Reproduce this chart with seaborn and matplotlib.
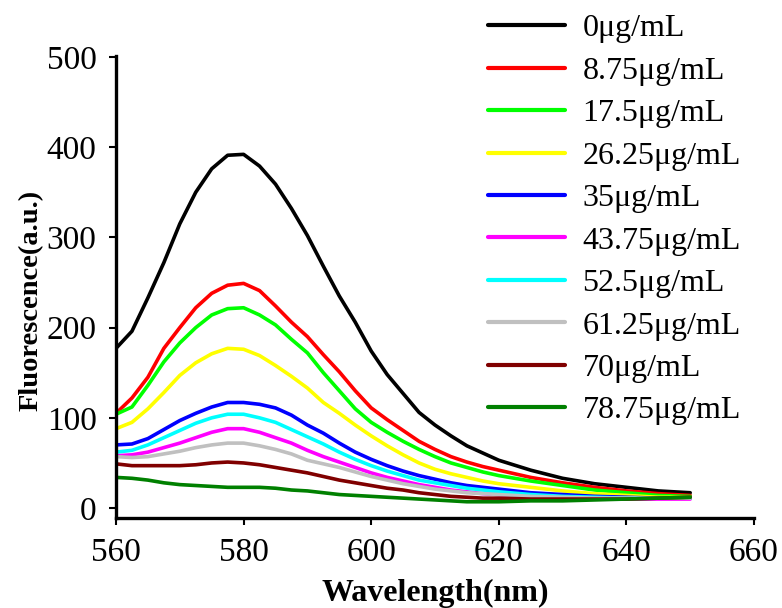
import numpy as np
import pandas as pd
import matplotlib
matplotlib.use("Agg")
import matplotlib.pyplot as plt
import seaborn as sns

wavelength = [560, 562.5, 565, 567.5, 570, 572.5, 575, 577.5, 580, 582.5, 585, 587.5,
              590, 592.5, 595, 597.5, 600, 602.5, 605, 607.5, 610, 612.5, 615, 617.5,
              620, 625, 630, 635, 640, 645, 650]

labels = ["0μg/mL", "8.75μg/mL", "17.5μg/mL", "26.25μg/mL", "35μg/mL",
          "43.75μg/mL", "52.5μg/mL", "61.25μg/mL", "70μg/mL", "78.75μg/mL"]

c0     = [177, 196, 233, 272, 315, 350, 376, 391, 392, 379, 359, 332, 302, 268, 235, 206,
          174, 148, 127, 106, 92, 80, 69, 61, 53, 42, 33, 27, 23, 19, 17]
c8_75  = [105, 122, 145, 177, 200, 222, 238, 247, 249, 241, 224, 206, 190, 170, 151, 130,
          111, 98, 86, 74, 65, 57, 51, 46, 42, 34, 28, 23, 19, 16, 14]
c17_5  = [104, 112, 136, 162, 183, 200, 214, 221, 222, 214, 203, 187, 172, 150, 130, 110,
          95, 84, 74, 65, 57, 50, 45, 40, 36, 30, 25, 20, 17, 14, 13]
c26_25 = [88, 95, 110, 128, 147, 161, 171, 177, 176, 169, 158, 146, 133, 117, 105, 92,
          80, 69, 59, 50, 43, 38, 34, 30, 27, 23, 19, 16, 14, 12, 12]
c35    = [70, 71, 77, 87, 97, 105, 112, 117, 117, 115, 111, 103, 92, 83, 72, 62,
          54, 47, 41, 36, 32, 28, 25, 23, 21, 17, 15, 13, 12, 11, 11]
c43_75 = [58, 59, 62, 67, 72, 78, 84, 88, 88, 84, 78, 72, 64, 57, 51, 45,
          39, 34, 30, 26, 23, 20, 18, 16, 15, 13, 11, 10, 10, 10, 10]
c52_5  = [62, 64, 70, 78, 86, 94, 100, 104, 104, 100, 95, 87, 79, 71, 62, 54,
          47, 41, 36, 31, 28, 25, 22, 20, 18, 15, 13, 12, 11, 11, 11]
c61_25 = [57, 56, 57, 60, 63, 67, 70, 72, 72, 69, 65, 60, 53, 49, 45, 40,
          35, 31, 27, 24, 21, 19, 17, 16, 15, 13, 12, 11, 11, 11, 11]
c70    = [49, 47, 47, 47, 47, 48, 50, 51, 50, 48, 45, 42, 39, 35, 31, 28,
          25, 22, 20, 17, 15, 13, 12, 11, 11, 10, 10, 10, 10, 11, 12]
c78_75 = [34, 33, 31, 28, 26, 25, 24, 23, 23, 23, 22, 20, 19, 17, 15, 14,
          13, 12, 11, 10, 9, 8, 7, 7, 7, 8, 8, 9, 10, 11, 12]

series = [c0, c8_75, c17_5, c26_25, c35, c43_75, c52_5, c61_25, c70, c78_75]
colors = ["#000000", "#FF0000", "#00FF00", "#FFFF00", "#0000FF",
          "#FF00FF", "#00FFFF", "#C0C0C0", "#800000", "#008000"]

rows = []
for lab, vals in zip(labels, series):
    for w, v in zip(wavelength, vals):
        rows.append({"Wavelength": w, "Fluorescence": v, "Concentration": lab})
df = pd.DataFrame(rows)

sns.set_style("ticks")
plt.rcParams["font.family"] = ["Liberation Serif", "DejaVu Serif"]
plt.rcParams["text.color"] = "black"
plt.rcParams["axes.labelcolor"] = "black"

fig = plt.figure(figsize=(7.82, 6.08), dpi=100)
ax = fig.add_axes([116/782, 1 - 518/608, (754-116)/782, (518-56)/608])

sns.lineplot(data=df, x="Wavelength", y="Fluorescence", hue="Concentration",
             hue_order=labels, palette=colors, linewidth=2.6, ax=ax, legend=False)

ax.set_xlim(560, 660)
ax.set_ylim(-11, 501)
ax.set_xticks([560, 580, 600, 620, 640, 660])
ax.set_yticks([0, 100, 200, 300, 400, 500])
for s in ["top", "right"]:
    ax.spines[s].set_visible(False)
for s in ["left", "bottom"]:
    ax.spines[s].set_linewidth(2.4)
    ax.spines[s].set_color("black")
ax.tick_params(axis="both", direction="out", length=5, width=1.5, labelsize=24,
               colors="black", pad=9)
ax.set_xlabel("Wavelength(nm)", fontsize=23, fontweight="bold", labelpad=8, color="black")
ax.set_ylabel("Fluorescence(a.u.)", fontsize=20.5, fontweight="bold", labelpad=2, color="black")
ax.yaxis.label.set_y(0.47)

handles = [plt.Line2D([], [], color=c, linewidth=3) for c in colors]
fig.legend(handles, labels, loc="upper left", bbox_to_anchor=(488/782, 1 - 14/608),
           frameon=False, fontsize=23, handlelength=2.4, handletextpad=0.56,
           labelspacing=0.41, borderpad=0, borderaxespad=0, labelcolor="black")

fig.savefig("out.png", dpi=100)
